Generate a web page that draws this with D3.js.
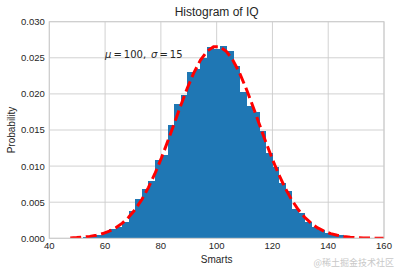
<!DOCTYPE html>
<html>
<head>
<meta charset="utf-8">
<title>Histogram of IQ</title>
<style>
  body { margin: 0; background: #fff; }
  text { font-family: "Liberation Sans", Arial, sans-serif; }
</style>
</head>
<body>
<script src="https://cdn.jsdelivr.net/npm/d3@7"></script>
<script>
// histogram: 50 bins, first edge + width
var binStart = 47.5;
var binWidth = 2.335;
// density of each bin
var density = [0.00005, 0.0001, 0.0002, 0.0003, 0.0005, 0.0008, 0.0013, 0.0016, 0.0023, 0.0038,
               0.0054, 0.0068, 0.0079, 0.0108, 0.0116, 0.0157, 0.0186, 0.0199, 0.0230, 0.0234,
               0.0250, 0.0265, 0.0262, 0.0266, 0.0259, 0.0239, 0.0203, 0.0183, 0.0175, 0.0149,
               0.0118, 0.0099, 0.0076, 0.0065, 0.0040, 0.0035, 0.0022, 0.0016, 0.0012, 0.0008,
               0.0006, 0.0004, 0.0003, 0.0001, 0.0001, 0.00005, 0.00003, 0.0, 0.0, 0.00002];
// fitted curve, one value per bin edge
var curve = [0.000058, 0.000099, 0.000165, 0.000267, 0.000423, 0.000655, 0.000989, 0.001456, 0.002093, 0.002939,
             0.004024, 0.00538, 0.007021, 0.008942, 0.01112, 0.01349, 0.01598, 0.01847, 0.02085, 0.02296,
             0.02468, 0.0259, 0.02652, 0.02651, 0.02587, 0.02463, 0.0229, 0.02077, 0.0184, 0.0159,
             0.01341, 0.01105, 0.00888, 0.00697, 0.00533, 0.00399, 0.00291, 0.00207, 0.00144, 0.000976,
             0.000646, 0.000418, 0.000264, 0.000162, 0.000098, 0.000057, 0.000033, 0.000018, 0.00001, 0.000005, 0.000003];
var xTicks = [40, 60, 80, 100, 120, 140, 160];
var yTicks = [0, 0.005, 0.010, 0.015, 0.020, 0.025, 0.030];

var width = 398, height = 271;
var margin = {left: 49.3, right: 14, top: 21.7, bottom: 32.7};
var svg = d3.select('body').append('svg')
    .attr('width', width)
    .attr('height', height);

var x = d3.scaleLinear().domain([40, 160]).range([margin.left, width - margin.right]);
var y = d3.scaleLinear().domain([0, 0.03]).range([height - margin.bottom, margin.top]);

svg.append('defs').append('clipPath').attr('id', 'plot')
    .append('rect')
    .attr('x', x(40)).attr('y', y(0.03))
    .attr('width', x(160) - x(40)).attr('height', y(0) - y(0.03));

// grid
svg.append('g').selectAll('line').data(xTicks).enter().append('line')
    .attr('x1', function(d) { return x(d); }).attr('x2', function(d) { return x(d); })
    .attr('y1', y(0)).attr('y2', y(0.03))
    .attr('stroke', '#cccccc').attr('stroke-width', 0.9);
svg.append('g').selectAll('line').data(yTicks).enter().append('line')
    .attr('x1', x(40)).attr('x2', x(160))
    .attr('y1', function(d) { return y(d); }).attr('y2', function(d) { return y(d); })
    .attr('stroke', '#cccccc').attr('stroke-width', 0.9);

var plot = svg.append('g').attr('clip-path', 'url(#plot)');

// bars
plot.selectAll('.bar').data(density).enter().append('rect')
    .attr('class', 'bar')
    .attr('x', function(d, i) { return x(binStart + i * binWidth); })
    .attr('width', function(d, i) { return x(binStart + (i + 1) * binWidth) - x(binStart + i * binWidth) + 0.6; })
    .attr('y', function(d) { return y(d); })
    .attr('height', function(d) { return y(0) - y(d); })
    .attr('fill', '#1f77b4')
    .attr('shape-rendering', 'crispEdges');

// dashed fit line
var line = d3.line()
    .x(function(d, i) { return x(binStart + i * binWidth); })
    .y(function(d) { return y(d); });
plot.append('path')
    .datum(curve)
    .attr('d', line)
    .attr('fill', 'none')
    .attr('stroke', '#f00')
    .attr('stroke-width', 3)
    .attr('stroke-dasharray', '11,4.6');

// frame
svg.append('rect')
    .attr('x', x(40)).attr('y', y(0.03))
    .attr('width', x(160) - x(40)).attr('height', y(0) - y(0.03))
    .attr('fill', 'none').attr('stroke', '#cccccc').attr('stroke-width', 1);

// tick labels
svg.append('g').selectAll('text').data(xTicks).enter().append('text')
    .attr('x', function(d) { return x(d); })
    .attr('y', y(0) + 10.5)
    .attr('text-anchor', 'middle')
    .attr('font-size', 9.5)
    .attr('fill', '#262626')
    .text(function(d) { return d; });
svg.append('g').selectAll('text').data(yTicks).enter().append('text')
    .attr('x', x(40) - 4.5)
    .attr('y', function(d) { return y(d) + 3.4; })
    .attr('text-anchor', 'end')
    .attr('font-size', 9.5)
    .attr('fill', '#262626')
    .text(function(d) { return d3.format('.3f')(d); });

// titles
svg.append('text')
    .attr('x', (x(40) + x(160)) / 2).attr('y', 16)
    .attr('text-anchor', 'middle').attr('font-size', 12)
    .attr('fill', '#262626')
    .text('Histogram of IQ');
svg.append('text')
    .attr('x', (x(40) + x(160)) / 2).attr('y', 262.5)
    .attr('text-anchor', 'middle').attr('font-size', 10)
    .attr('fill', '#262626')
    .text('Smarts');
svg.append('text')
    .attr('transform', 'translate(15,' + ((y(0) + y(0.03)) / 2) + ') rotate(-90)')
    .attr('text-anchor', 'middle').attr('font-size', 10)
    .attr('fill', '#262626')
    .text('Probability');

// annotation
var note = svg.append('text')
    .attr('x', x(60)).attr('y', y(0.025))
    .attr('font-size', 10)
    .attr('fill', '#262626')
    .style('font-family', '"DejaVu Sans", sans-serif');
note.append('tspan').attr('font-style', 'italic').text('\u03bc');
note.append('tspan').text('\u2009=\u2009100,\u2002');
note.append('tspan').attr('font-style', 'italic').text('\u03c3');
note.append('tspan').text('\u2009=\u200915');

// watermark
svg.append('text')
    .attr('x', 394).attr('y', 266)
    .attr('text-anchor', 'end')
    .attr('font-size', 9)
    .attr('fill', '#c8c8c8')
    .style('font-family', '"Noto Sans CJK SC", sans-serif')
    .text('@稀土掘金技术社区');
</script>
</body>
</html>
